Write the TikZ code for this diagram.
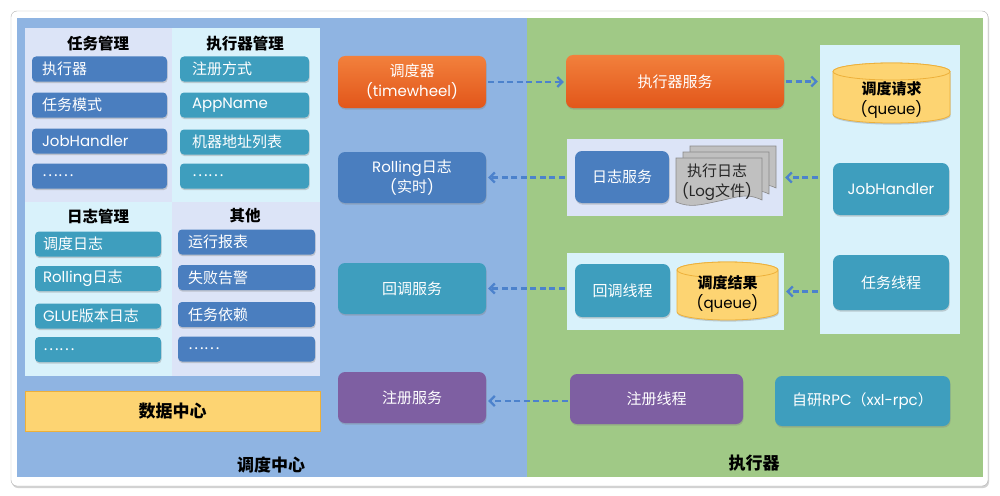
\documentclass[tikz,border=0pt]{standalone}
\usepackage{fontspec}
\setmainfont{Noto Sans CJK SC}
\newfontfamily\lt{Poppins}
\usetikzlibrary{shadows,arrows.meta,calc}
\definecolor{bgblue}{HTML}{8FB4E2}
\definecolor{bggreen}{HTML}{A0C986}
\definecolor{dblue}{HTML}{4A7EBF}
\definecolor{cteal}{HTML}{3E9EBE}
\definecolor{purp}{HTML}{7E5FA2}
\definecolor{orgT}{HTML}{F2803C}
\definecolor{orgB}{HTML}{E2561A}
\definecolor{lav}{HTML}{DCE4F7}
\definecolor{lcyan}{HTML}{D9F2FB}
\definecolor{ylw}{HTML}{FDD472}
\definecolor{ylwd}{HTML}{EDB03A}
\definecolor{arr}{HTML}{4C82CC}
\definecolor{docg}{HTML}{C0C0C0}
\definecolor{docd}{HTML}{8A8A8A}
\newcommand\fs{\fontsize{15}{20}\selectfont}
\tikzset{
  shad/.style={drop shadow={shadow xshift=0.6pt,shadow yshift=-1.6pt,opacity=0.35}},
  lbox/.style={rounded corners=4pt, text=white, align=left, inner ysep=0pt,
    minimum height=25pt, font=\fs, shad},
  colA/.style={lbox, fill=dblue, text width=115pt, inner xsep=10pt},
  colB/.style={lbox, fill=cteal, text width=105pt, inner xsep=12pt},
  colC/.style={lbox, fill=cteal, text width=110pt, inner xsep=8pt},
  colD/.style={lbox, fill=dblue, text width=117pt, inner xsep=10pt},
  hdr/.style={font=\fontsize{15.5}{18}\selectfont\bfseries, text=black},
  ttl/.style={font=\fontsize{17}{20}\selectfont\bfseries, text=black},
  mbox/.style={rounded corners=7pt, text=white, align=center, font=\fs,
    inner sep=0pt, shad},
  orangebox/.style={mbox, top color=orgT, bottom color=orgB},
  panel/.style={inner sep=0pt},
  cylst/.style={fill=ylw, draw=ylwd, line width=0.8pt},
  docst/.style={fill=docg, draw=docd, line width=0.6pt},
  arrst/.style={draw=arr, line width=2.2pt, dash pattern=on 6pt off 3.5pt,
    -{Straight Barb[length=5pt,width=10pt,line width=2.2pt]},
    shorten >=2pt, shorten <=2pt},
}
\begin{document}
\begin{tikzpicture}[x=1pt,y=-1pt]
\useasboundingbox (0,0) rectangle (1000,495);
\fill[white] (0,0) rectangle (1000,495);
% frame
\draw[draw=black!30, fill=white, rounded corners=6pt,
  drop shadow={shadow xshift=1pt,shadow yshift=-2pt,opacity=0.35}] (11,11) rectangle (988,486);
\fill[bgblue] (17,18) rectangle (527,477);
\fill[bggreen] (527,18) rectangle (983,477);
% left panel quadrants
\fill[lav] (25,28) rectangle (172,202);
\fill[lcyan] (172,28) rectangle (320,202);
\fill[lcyan] (25,202) rectangle (172,376);
\fill[lav] (172,202) rectangle (320,376);
% headers
\node[hdr] (h1) at (98,44) {任务管理};
\node[hdr] (h2) at (245,44) {执行器管理};
\node[hdr] (h3) at (98,217) {日志管理};
\node[hdr] (h4) at (245,216) {其他};
% column A
\node[colA] (a1) at (99.5,69) {执行器};
\node[colA] (a2) at (99.5,105) {任务模式};
\node[colA] (a3) at (99.5,141) {{\lt JobHandler}};
\node[colA] (a4) at (99.5,176) {……};
% column B
\node[colB] (b1) at (244.5,69) {注册方式};
\node[colB] (b2) at (244.5,105) {{\lt AppName}};
\node[colB] (b3) at (244.5,142) {机器地址列表};
\node[colB] (b4) at (244.5,176) {……};
% column C
\node[colC] (c1) at (98,244) {调度日志};
\node[colC] (c2) at (98,278.5) {{\lt Rolling}日志};
\node[colC] (c3) at (98,316) {{\lt GLUE}版本日志};
\node[colC] (c4) at (98,349.5) {……};
% column D
\node[colD] (d1) at (246.5,242) {运行报表};
\node[colD] (d2) at (246.5,277.5) {失败告警};
\node[colD] (d3) at (246.5,314.5) {任务依赖};
\node[colD] (d4) at (246.5,349) {……};
% data center
\node[draw=ylwd, fill=ylw, line width=0.8pt, minimum width=295pt, minimum height=40pt,
  ttl, inner sep=0pt] (dc) at (172.5,411) {数据中心};
\node[ttl] (t1) at (271,465) {调度中心};
\node[ttl] (t2) at (754,463) {执行器};
% middle column
\node[orangebox, minimum width=148pt, minimum height=52pt] (sched) at (412,82)
  {调度器\\{\lt (timewheel)}};
\node[mbox, fill=dblue, minimum width=148pt, minimum height=51pt] (rolling) at (412,177.5)
  {{\lt Rolling}日志\\{\lt(}实时{\lt)}};
\node[mbox, fill=cteal, minimum width=148pt, minimum height=51pt] (cbsvc) at (412,288.5)
  {回调服务};
\node[mbox, fill=purp, minimum width=148pt, minimum height=51pt] (regsvc) at (412,397.5)
  {注册服务};
% right side
\node[orangebox, minimum width=218pt, minimum height=53pt] (exsvc) at (675,81.5) {执行器服务};
\node[panel, fill=lav, minimum width=216pt, minimum height=77pt] (logpanel) at (675,177.5) {};
\node[panel, fill=lcyan, minimum width=217pt, minimum height=77pt] (cbpanel) at (675.5,291.5) {};
\node[panel, fill=lcyan, minimum width=140pt, minimum height=289pt] (rpanel) at (890,189.5) {};
\node[mbox, fill=dblue, minimum width=94pt, minimum height=52pt] (logsvc) at (622,177) {日志服务};
\node[mbox, fill=cteal, minimum width=95pt, minimum height=53pt] (cbthr) at (622.5,290.5) {回调线程};
\node[mbox, fill=purp, minimum width=173pt, minimum height=50pt] (regthr) at (656.5,399) {注册线程};
\node[mbox, fill=cteal, minimum width=175pt, minimum height=50pt] (rpc) at (862.5,401)
  {自研{\lt RPC}（{\lt xxl-rpc}）};
\node[mbox, fill=cteal, minimum width=116pt, minimum height=52pt] (jh) at (891,189) {{\lt JobHandler}};
\node[mbox, fill=cteal, minimum width=116pt, minimum height=55pt] (taskthr) at (891,282.5) {任务线程};
% cylinder: request queue
\path[cylst, shad] (833,71.5) -- (833,114.5)
  arc[start angle=180,end angle=360,x radius=58.5pt,y radius=8.5pt] -- (950,71.5)
  arc[start angle=0,end angle=180,x radius=58.5pt,y radius=8.5pt] -- cycle;
\draw[cylst] (891.5,71.5) ellipse [x radius=58.5pt, y radius=8.5pt];
\node[font=\fs, align=center, text=black] (reqq) at (891.5,100)
  {\textbf{调度请求}\\{\lt (queue)}};
% cylinder: result queue
\path[cylst, shad] (677,270) -- (677,312)
  arc[start angle=180,end angle=360,x radius=50.5pt,y radius=8pt] -- (778,270)
  arc[start angle=0,end angle=180,x radius=50.5pt,y radius=8pt] -- cycle;
\draw[cylst] (727.5,270) ellipse [x radius=50.5pt, y radius=8pt];
\node[font=\fs, align=center, text=black] (resq) at (727.5,294)
  {\textbf{调度结果}\\{\lt (queue)}};
% stacked documents
\foreach \dx/\dy in {14/-12, 7/-6, 0/0} {
  \draw[docst] (676+\dx,158+\dy) -- (762+\dx,158+\dy) -- (762+\dx,200+\dy)
    .. controls (745+\dx,192+\dy) and (735+\dx,198+\dy) .. (719+\dx,201+\dy)
    .. controls (700+\dx,205+\dy) and (690+\dx,208+\dy) .. (676+\dx,202+\dy) -- cycle;
}
\node[font=\fs, align=center, text=black!85] (logfile) at (717,182)
  {执行日志\\{\lt (Log}文件{\lt )}};
% connectors
\draw[arrst] (sched.east) -- (exsvc.west |- sched.east);
\draw[arrst] (exsvc.east) -- (rpanel.west |- exsvc.east);
\draw[arrst] (rpanel.west |- logpanel.east) -- (logpanel.east);
\draw[arrst] (logpanel.west) -- (rolling.east |- logpanel.west);
\draw[arrst] (rpanel.west |- cbpanel.east) -- (cbpanel.east);
\draw[arrst] (cbpanel.west |- cbsvc.east) -- (cbsvc.east);
\draw[arrst] (regthr.west |- 0,401) -- (regsvc.east |- 0,401);
\end{tikzpicture}
\end{document}
